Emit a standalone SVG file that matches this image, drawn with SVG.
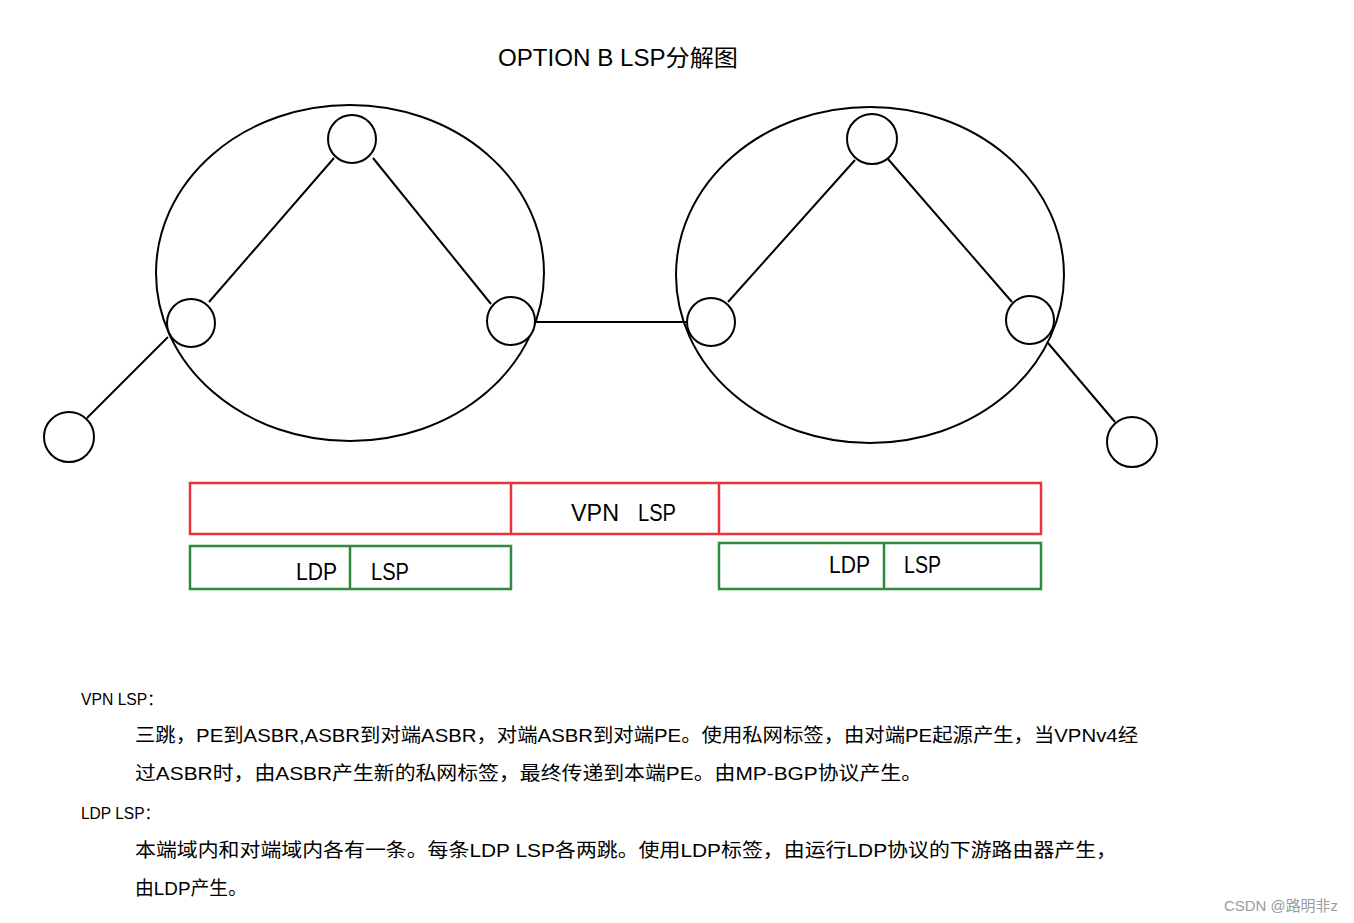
<svg xmlns="http://www.w3.org/2000/svg" width="1354" height="923" viewBox="0 0 1354 923">
<style>
.shape{fill:none;stroke:#000;stroke-width:2}
.node{fill:#fff;stroke:#000;stroke-width:2}
.edge{stroke:#000;stroke-width:2;fill:none}
.red{fill:none;stroke:#e8333a;stroke-width:2.5}
.green{fill:none;stroke:#2e8b3e;stroke-width:2.5}
.lbl{font-family:"Liberation Sans","Noto Sans CJK SC",sans-serif;font-size:23px;fill:#000}
.body{font-family:"Liberation Sans","Noto Sans CJK SC",sans-serif;font-size:19px;fill:#000}
.head{font-family:"Liberation Sans","Noto Sans CJK SC",sans-serif;font-size:16px;fill:#000}
</style>
<rect width="1354" height="923" fill="#fff"/>
<text class="lbl" x="498" y="66" font-size="27" textLength="240" lengthAdjust="spacingAndGlyphs">OPTION B LSP分解图</text>
<g id="domains">
<ellipse id="domain-left" class="shape" cx="350" cy="273" rx="194" ry="168"/>
<ellipse id="domain-right" class="shape" cx="870" cy="275" rx="194" ry="168"/>
</g>
<g id="connectors">
<line class="edge" x1="334" y1="158" x2="209" y2="302"/>
<line class="edge" x1="373" y1="158" x2="491" y2="304"/>
<line class="edge" x1="168" y1="337" x2="87" y2="418"/>
<line class="edge" x1="535" y1="322" x2="687" y2="322"/>
<line class="edge" x1="855" y1="160" x2="728" y2="302"/>
<line class="edge" x1="888" y1="159" x2="1012" y2="302"/>
<line class="edge" x1="1048" y1="343" x2="1115" y2="422"/>
</g>
<g id="node-l-top"><circle class="node" cx="352" cy="139" r="24"/></g>
<g id="node-l-pe"><circle class="node" cx="191" cy="323" r="24"/></g>
<g id="node-l-asbr"><circle class="node" cx="511" cy="321" r="24"/></g>
<g id="node-l-ce"><circle class="node" cx="69" cy="437" r="25"/></g>
<g id="node-r-top"><circle class="node" cx="872" cy="139" r="25"/></g>
<g id="node-r-asbr"><circle class="node" cx="711" cy="322" r="24"/></g>
<g id="node-r-pe"><circle class="node" cx="1030" cy="320" r="24"/></g>
<g id="node-r-ce"><circle class="node" cx="1132" cy="442" r="25"/></g>
<g id="vpn-lsp">
<rect class="red" x="190" y="483" width="851" height="51"/>
<line class="red" x1="511" y1="483" x2="511" y2="534"/>
<line class="red" x1="719" y1="483" x2="719" y2="534"/>
<text class="lbl" x="571" y="521" textLength="48" lengthAdjust="spacingAndGlyphs">VPN</text>
<text class="lbl" x="638" y="521" textLength="38" lengthAdjust="spacingAndGlyphs">LSP</text>
</g>
<g id="ldp-lsp-left">
<rect class="green" x="190" y="546" width="321" height="43"/>
<line class="green" x1="350" y1="546" x2="350" y2="589"/>
<text class="lbl" x="296" y="580" textLength="41" lengthAdjust="spacingAndGlyphs">LDP</text>
<text class="lbl" x="371" y="580" textLength="38" lengthAdjust="spacingAndGlyphs">LSP</text>
</g>
<g id="ldp-lsp-right">
<rect class="green" x="719" y="543" width="322" height="46"/>
<line class="green" x1="884" y1="543" x2="884" y2="589"/>
<text class="lbl" x="829" y="573" textLength="41" lengthAdjust="spacingAndGlyphs">LDP</text>
<text class="lbl" x="904" y="573" textLength="37" lengthAdjust="spacingAndGlyphs">LSP</text>
</g>
<g id="notes">
<text class="head" x="81" y="705" textLength="82" lengthAdjust="spacingAndGlyphs">VPN LSP：</text>
<text class="body" x="135" y="742" textLength="1003" lengthAdjust="spacingAndGlyphs">三跳，PE到ASBR,ASBR到对端ASBR，对端ASBR到对端PE。使用私网标签，由对端PE起源产生，当VPNv4经</text>
<text class="body" x="135" y="780" textLength="787" lengthAdjust="spacingAndGlyphs">过ASBR时，由ASBR产生新的私网标签，最终传递到本端PE。由MP-BGP协议产生。</text>
<text class="head" x="81" y="819" textLength="79" lengthAdjust="spacingAndGlyphs">LDP LSP：</text>
<text class="body" x="135" y="857" textLength="982" lengthAdjust="spacingAndGlyphs">本端域内和对端域内各有一条。每条LDP LSP各两跳。使用LDP标签，由运行LDP协议的下游路由器产生，</text>
<text class="body" x="135" y="895" textLength="112" lengthAdjust="spacingAndGlyphs">由LDP产生。</text>
</g>
<text x="1224" y="911" font-family="Liberation Sans,'Noto Sans CJK SC',sans-serif" font-size="15" fill="#9a9a9a" textLength="114" lengthAdjust="spacingAndGlyphs">CSDN @路明非z</text>
</svg>
